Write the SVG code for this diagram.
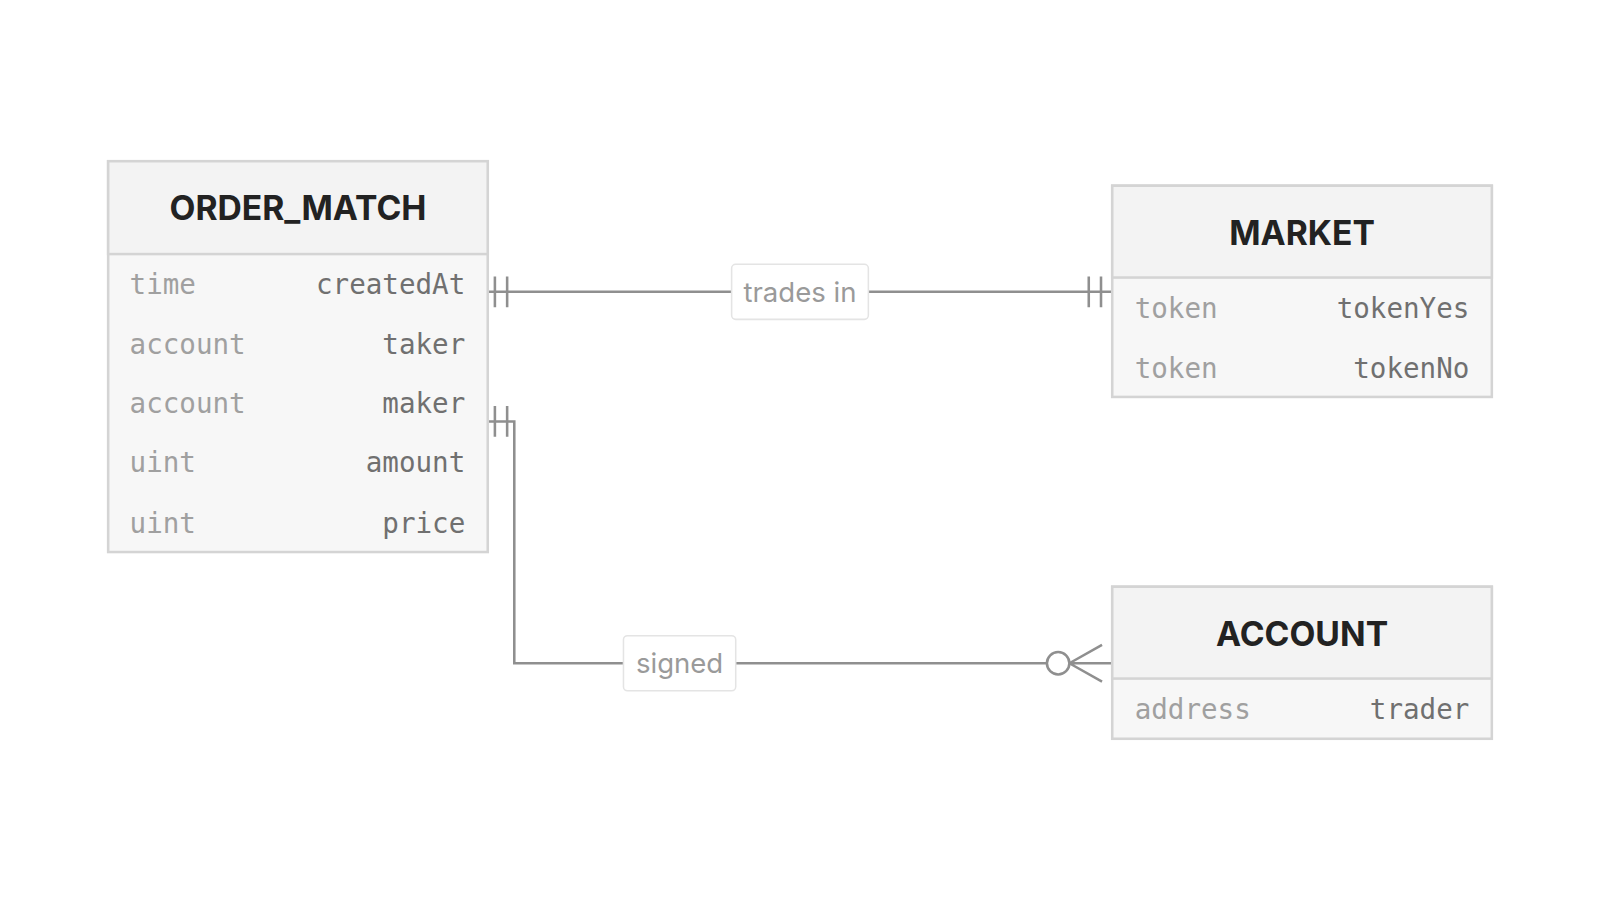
<svg xmlns="http://www.w3.org/2000/svg" width="1600" height="900" viewBox="0 0 1600 900">
<style>
.box{fill:#f7f7f7;stroke:#d4d4d4;stroke-width:2.5}
.hd{fill:#f3f3f3;stroke:#d4d4d4;stroke-width:2.5}
.t{font-family:Inter,"Liberation Sans",sans-serif;font-weight:700;font-size:33px;fill:#222;text-anchor:middle}
.ty{font-family:"DejaVu Sans Mono","Liberation Mono",monospace;font-size:27px;fill:#a0a0a0}
.nm{font-family:"DejaVu Sans Mono","Liberation Mono",monospace;font-size:27px;fill:#707070;text-anchor:end}
.ln{fill:none;stroke:#8f8f8f;stroke-width:2.5}
.lb{fill:#fff;stroke:#e4e4e4;stroke-width:1.5}
.lt{font-family:Inter,"Liberation Sans",sans-serif;font-size:27px;fill:#9a9a9a;text-anchor:middle}
</style>
<rect width="1600" height="900" fill="#fff"/>
<g transform="scale(1.0204)">
<g id="connectors">
<path class="ln" d="M478 286H1090M485 271V301M497 271V301M1067 271V301M1079 271V301"/>
<path class="ln" d="M478 413H504V650H1026M485 398V428M497 398V428M1048 650H1090M1048 650L1080 632M1048 650L1080 668"/>
<circle class="ln" cx="1037" cy="650" r="11" fill="#fff"/>
<rect class="lb" x="717" y="259" width="134" height="54" rx="4"/>
<text class="lt" x="784" y="296">trades in</text>
<rect class="lb" x="611" y="623" width="110" height="54" rx="4"/>
<text class="lt" x="666" y="660">signed</text>
</g>
<g id="order_match">
<rect class="box" x="106" y="158" width="372" height="383"/>
<rect class="hd" x="106" y="158" width="372" height="91"/>
<text class="t" x="292" y="216">ORDER_MATCH</text>
<text class="ty" x="127" y="288">time</text><text class="nm" x="456" y="288">createdAt</text>
<text class="ty" x="127" y="347">account</text><text class="nm" x="456" y="347">taker</text>
<text class="ty" x="127" y="405">account</text><text class="nm" x="456" y="405">maker</text>
<text class="ty" x="127" y="463">uint</text><text class="nm" x="456" y="463">amount</text>
<text class="ty" x="127" y="522">uint</text><text class="nm" x="456" y="522">price</text>
</g>
<g id="market">
<rect class="box" x="1090" y="182" width="372" height="207"/>
<rect class="hd" x="1090" y="182" width="372" height="90"/>
<text class="t" x="1276" y="240">MARKET</text>
<text class="ty" x="1112" y="312">token</text><text class="nm" x="1440" y="312">tokenYes</text>
<text class="ty" x="1112" y="370">token</text><text class="nm" x="1440" y="370">tokenNo</text>
</g>
<g id="account">
<rect class="box" x="1090" y="575" width="372" height="149"/>
<rect class="hd" x="1090" y="575" width="372" height="90"/>
<text class="t" x="1276" y="633">ACCOUNT</text>
<text class="ty" x="1112" y="705">address</text><text class="nm" x="1440" y="705">trader</text>
</g>
</g>
</svg>
